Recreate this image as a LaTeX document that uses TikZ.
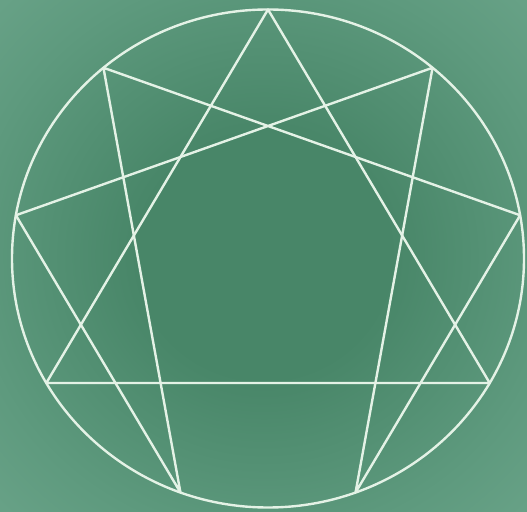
\documentclass[tikz,border=0pt]{standalone}
\usepackage{tikz}
\usetikzlibrary{calc}
\definecolor{BoardDark}{RGB}{72,134,104}
\definecolor{BoardMid}{RGB}{94,154,126}
\definecolor{BoardLight}{RGB}{112,168,142}
\definecolor{BoardEdge}{RGB}{84,146,116}
\definecolor{Chalk}{RGB}{228,242,230}
\pgfdeclareradialshading{board}{\pgfpoint{0bp}{0bp}}{%
  color(0bp)=(BoardDark);color(12bp)=(BoardDark);color(28bp)=(BoardMid);
  color(42bp)=(BoardLight);color(52bp)=(BoardLight);color(72bp)=(BoardEdge)}
\tikzset{
  chalk/.style={draw=Chalk,line width=2.4pt,line join=round,line cap=round}
}

\begin{document}
\begin{tikzpicture}[x=1pt,y=1pt]
  \useasboundingbox (0,0) rectangle (527,511);
  \shade[shading=board] (0,0) rectangle (527,511);
  \coordinate (c) at (268,252.5);
  % nine points round the circle, 9 on top, clockwise
  \foreach \i in {1,...,9}{
    \pgfmathsetmacro{\a}{90-40*\i}
    \coordinate (p\i) at ($(c)+(\a:256 and 249)$);
  }
  \draw[chalk] (c) ellipse (256 and 249);
  % triangle
  \draw[chalk] (p9) -- (p3) -- (p6) -- cycle;
  % hexad
  \draw[chalk] (p1) -- (p4) -- (p2) -- (p8) -- (p5) -- (p7) -- cycle;
\end{tikzpicture}
\end{document}
